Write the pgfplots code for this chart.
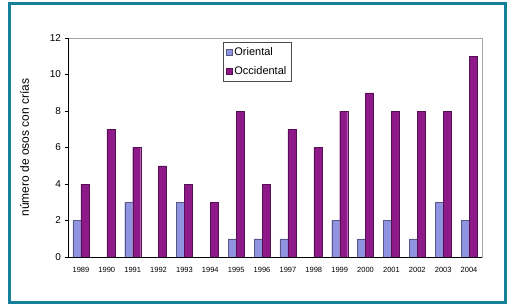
\documentclass[border=0pt]{standalone}
\usepackage{pgfplots}
\pgfplotsset{compat=1.18}
\usepackage{fontspec}
\setmainfont{Liberation Sans}
\definecolor{frame}{HTML}{16809B}
\definecolor{ori}{HTML}{8F93E0}
\definecolor{occ}{HTML}{8E1A8A}
\begin{document}
\begin{tikzpicture}[x=1pt,y=1pt]
\path[fill=white] (0,0) rectangle (510,306);
\draw[frame, line width=3pt] (9,3.5) rectangle (505,302.5);
\begin{axis}[
  at={(68pt,49pt)}, anchor=south west,
  scale only axis, width=414pt, height=219pt,
  ybar=0pt, bar width=8pt,
  xmin=-0.5, xmax=15.5, ymin=0, ymax=12,
  ytick={0,2,...,12},
  xtick={0,...,15},
  xticklabels={1989,1990,1991,1992,1993,1994,1995,1996,1997,1998,1999,2000,2001,2002,2003,2004},
  x tick label style={font=\fontsize{7.5}{8}\selectfont, yshift=-3pt},
  y tick label style={font=\fontsize{10}{11}\selectfont},
  /pgf/number format/assume math mode=true,
  axis line style={draw=black!35, line width=0.6pt},
  major x tick style={draw=none},
  y tick style={black, line width=0.5pt},
  tick align=outside, major tick length=3.5pt,
  ytick pos=left,
  extra x ticks={-0.5,0.5,...,15.5},
  extra x tick labels={},
  extra x tick style={major tick length=3.5pt, tick style={black, line width=0.5pt}, xtick pos=bottom},
  xtick pos=bottom,
  ylabel={número de osos con crías},
  ylabel style={font=\fontsize{12}{13}\selectfont, at={(axis description cs:-0.105,0.5)}, anchor=center, rotate=0},
  legend style={at={(axis description cs:0.374,0.982)}, anchor=north west, draw=black!70, line width=0.5pt,
    font=\fontsize{11}{12}\selectfont, row sep=6pt, inner xsep=3pt, inner ysep=3pt},
  legend cell align=left,
  legend image code/.code={\draw[#1, line width=0.3pt] (0pt,-3pt) rectangle (6pt,3pt);},
  clip=false,
]
\addplot[fill=ori, draw=ori!60!black, line width=0.3pt] coordinates {
 (0,2) (2,3) (4,3) (6,1) (7,1) (8,1) (10,2) (11,1) (12,2) (13,1) (14,3) (15,2)};
\addplot[fill=occ, draw=occ!60!black, line width=0.3pt] coordinates {
 (0,4) (1,7) (2,6) (3,5) (4,4) (5,3) (6,8) (7,4) (8,7) (9,6) (10,8) (11,9) (12,8) (13,8) (14,8) (15,11)};
\legend{Oriental, Occidental}
\draw[black, line width=0.6pt] (rel axis cs:0,1) -- (rel axis cs:0,0) -- (rel axis cs:1,0);
\end{axis}
\end{tikzpicture}
\end{document}
